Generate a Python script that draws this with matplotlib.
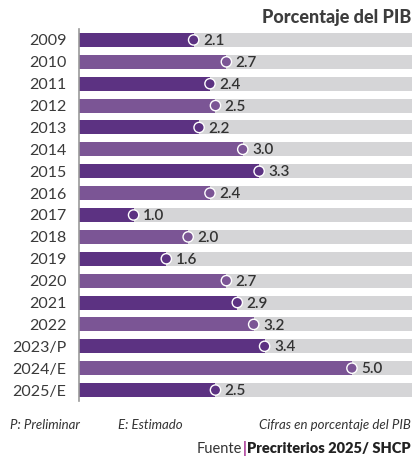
import matplotlib
matplotlib.use("Agg")
import matplotlib.pyplot as plt

years = ["2009", "2010", "2011", "2012", "2013", "2014", "2015", "2016", "2017",
         "2018", "2019", "2020", "2021", "2022", "2023/P", "2024/E", "2025/E"]
values = [2.1, 2.7, 2.4, 2.5, 2.2, 3.0, 3.3, 2.4, 1.0, 2.0, 1.6, 2.7, 2.9, 3.2, 3.4, 5.0, 2.5]

DARK = "#5c3282"
LIGHT = "#7b5595"
GRAY = "#d5d5d7"
TEXT = "#333333"
XMAX = 6.1

plt.rcParams['font.family'] = ['Lato', 'DejaVu Sans']

fig = plt.figure(figsize=(4.12, 4.59), dpi=100)
ax = fig.add_axes([79/412, 1 - 401/459, 1 - 79/412, (401 - 29)/459])

n = len(years)
ys = list(range(n))
colors = [DARK if i % 2 == 0 else LIGHT for i in range(n)]
ax.barh(ys, [XMAX] * n, height=0.64, color=GRAY, zorder=1)
ax.barh(ys, values, height=0.64, color=colors, zorder=2)
ax.scatter(values, ys, s=55, c=colors, edgecolors="white", linewidths=1.0, zorder=3)
for v, y in zip(values, ys):
    ax.text(v + 0.17, y + 0.05, f"{v:.1f}", va="center", ha="left", fontsize=11,
            fontweight="semibold", color=TEXT, zorder=4)

ax.set_xlim(0, XMAX)
ax.set_ylim(n - 0.5, -0.5)
ax.set_yticks(ys)
ax.set_yticklabels(years, fontsize=11.5, color="#3a3a3a", fontweight="normal")
ax.tick_params(axis="y", length=0, pad=9)
ax.set_xticks([])
for s in ["top", "right", "bottom"]:
    ax.spines[s].set_visible(False)
ax.spines["left"].set_color("#9a9a9a")
ax.spines["left"].set_linewidth(1.2)

fig.text(0.998, 1 - 18/459, "Porcentaje del PIB", ha="right", va="center",
         fontsize=13, fontweight="black", color="#3d3d3d")

fy = 1 - 425/459
fig.text(10/412, fy, "P: Preliminar", ha="left", va="center", fontsize=9.5,
         style="italic", color=TEXT)
fig.text(118/412, fy, "E: Estimado", ha="left", va="center", fontsize=9.5,
         style="italic", color=TEXT)
fig.text(0.998, fy, "Cifras en porcentaje del PIB", ha="right", va="center",
         fontsize=9.5, style="italic", color=TEXT)

sy = 1 - 449/459
t3 = fig.text(0.997, sy, "Precriterios 2025/ SHCP", ha="right", va="center",
              fontsize=10.5, fontweight="heavy", color="#222222")
fig.canvas.draw()
bb = t3.get_window_extent()
x_left = bb.x0 / fig.bbox.width
t2 = fig.text(x_left - 0.001, sy, "|", ha="right", va="center", fontsize=10.5,
              fontweight="bold", color="#a0208a")
fig.canvas.draw()
bb2 = t2.get_window_extent()
fig.text(bb2.x0 / fig.bbox.width - 0.001, sy, "Fuente", ha="right", va="center",
         fontsize=10.5, color=TEXT)

fig.savefig("out.png", dpi=100)
